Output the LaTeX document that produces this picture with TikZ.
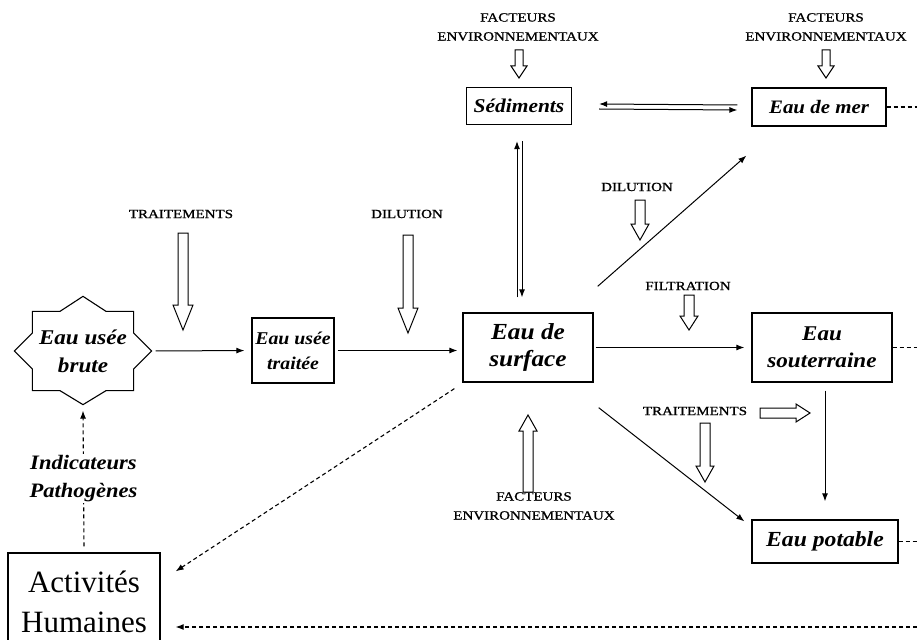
\documentclass[tikz,border=0pt]{standalone}
\usepackage{fontspec}
\setmainfont{Liberation Serif}
\newfontfamily\bifont[FakeStretch=1.1]{Liberation Serif}
\newfontfamily\capfont[FakeStretch=1.2,FakeBold=1]{Liberation Serif}
\usetikzlibrary{arrows.meta,calc}
\tikzset{
 box/.style n args={2}{draw, line width=1.3pt, inner sep=0pt, align=center,
   font=\bifont\bfseries\itshape\fontsize{#1}{#2}\selectfont},
 lbl/.style={font=\capfont\fontsize{12.5}{19}\selectfont, align=center, inner sep=0pt},
 arr/.style={line width=1pt, -{Latex[length=8pt,width=6pt]}},
 darr/.style={line width=1.1pt, dash pattern=on 4pt off 3pt, -{Latex[length=8pt,width=6pt]}},
 dline/.style={line width=1.1pt, dash pattern=on 4pt off 3pt},
 pics/blockarr/.style n args={4}{code={
   \draw[line width=1pt, fill=white] (0,-#3) -- ({#1-#2},-#3) -- ({#1-#2},-#4) -- (#1,0)
     -- ({#1-#2},#4) -- ({#1-#2},#3) -- (0,#3) -- cycle;}},
}
\begin{document}
\begin{tikzpicture}[x=1pt,y=-1pt]
\useasboundingbox (0,0) rectangle (917,639);
\clip (0,0) rectangle (917,639);
\coordinate (redge) at (917,0);

% nodes
\node[box={19.5}{24}, minimum width=105pt, minimum height=37pt] (sed) at (519,106) {Sédiments};
\node[box={19}{24}, minimum width=134pt, minimum height=38pt] (mer) at (819,107) {Eau de mer};
\node[box={18}{25}, minimum width=82pt, minimum height=65pt] (traitee) at (293,350.5) {Eau usée\\traitée};
\node[box={23}{27}, minimum width=130pt, minimum height=69pt] (surface) at (528,347.5) {Eau de\\surface};
\node[box={21}{27}, minimum width=140pt, minimum height=69pt] (sout) at (822,347.5) {Eau\\souterraine};
\node[box={21.5}{26}, minimum width=146pt, minimum height=43pt] (potable) at (825,541.5) {Eau potable};
\node[box={21}{28}, draw=none, minimum width=100pt, minimum height=78pt] (brute) at (83,351) {Eau usée\\brute};
\node[draw, line width=1.3pt, inner sep=0pt, align=center, minimum width=152pt, minimum height=97pt,
  font=\fontsize{31}{40}\selectfont] (act) at (84,601.5) {Activités\\Humaines};

% star outline
\draw[line width=1.1pt] (brute.north west) -- ($(brute.north)+(-23,0)$) -- ($(brute.north)+(0,-15)$)
  -- ($(brute.north)+(23,0)$) -- (brute.north east) -- ($(brute.east)+(0,-18)$) -- ($(brute.east)+(18,0)$)
  -- ($(brute.east)+(0,18)$) -- (brute.south east) -- ($(brute.south)+(23,0)$) -- ($(brute.south)+(0,14)$)
  -- ($(brute.south)+(-23,0)$) -- (brute.south west) -- ($(brute.west)+(0,18)$) -- ($(brute.west)+(-18,0)$)
  -- ($(brute.west)+(0,-18)$) -- cycle;
\coordinate (bruteE) at ($(brute.east)+(18,0)$);

% labels
\node[lbl] (f1) at (518,27) {FACTEURS\\ENVIRONNEMENTAUX};
\node[lbl] (f2) at (826,27) {FACTEURS\\ENVIRONNEMENTAUX};
\node[lbl] (t1) at (181,214) {TRAITEMENTS};
\node[lbl] (d1) at (407,214) {DILUTION};
\node[lbl] (d2) at (637,187) {DILUTION};
\node[lbl] (fil) at (688,286) {FILTRATION};
\node[lbl] (t2) at (695,411) {TRAITEMENTS};
\node[lbl] (f3) at (534,506) {FACTEURS\\ENVIRONNEMENTAUX};

% solid connectors
\draw[arr, shorten <=4pt, shorten >=7pt] (bruteE) -- (traitee.west);
\draw[arr, shorten <=3pt, shorten >=5pt] (traitee.east) -- (traitee.east -| surface.west);
\draw[arr, shorten <=2pt, shorten >=7pt] (surface.east) -- (sout.west);
\draw[arr] ($(mer.west)+(-14,-2)$) -- ($(sed.east)+(27,-2)$);
\draw[arr] ($(sed.east)+(27,3)$) -- ($(mer.west)+(-14,3)$);
\draw[arr] ($(surface.north)+(-11,-15)$) -- ($(sed.south)+(-2,16)$);
\draw[arr] ($(sed.south)+(3,16)$) -- ($(surface.north)+(-6,-15)$);
\draw[arr] ($(surface.north east)+(4,-26)$) -- ($(mer.south west)+(-5,29)$);
\draw[arr] ($(surface.south east)+(5,25)$) -- ($(potable.north west)+(-7,2)$);
\draw[arr] ($(sout.south)+(3,8)$) -- ($(potable.north)+(0,-18)$);

% dashed connectors
\draw[darr] ($(surface.south west)+(-8,6)$) -- ($(act.north east)+(15,19)$);
\draw[darr] ($(act.north)+(0,-6)$) -- node[midway, fill=white, inner sep=1pt, align=center,
   font=\bifont\bfseries\itshape\fontsize{20.5}{28}\selectfont] (ind) {Indicateurs\\Pathogènes}
   ($(brute.south)+(0,20)$);
\coordinate (rb) at (917,627);
\draw[darr, shorten >=15pt] (rb) -- (act.east |- rb);
\draw[dline] (mer.east) -- (mer.east -| redge);
\draw[dline] (sout.east) -- (sout.east -| redge);
\draw[dline] (potable.east) -- (potable.east -| redge);

% hollow block arrows
\pic[rotate=-90] at (519,50) {blockarr={28}{12}{4}{8}};
\pic[rotate=-90] at (826,50) {blockarr={28}{12}{4}{8}};
\pic[rotate=-90] at (183,233) {blockarr={97}{25}{5}{10}};
\pic[rotate=-90] at (408,235) {blockarr={98}{25}{5}{10}};
\pic[rotate=-90] at (640,200) {blockarr={40}{16}{5}{9}};
\pic[rotate=-90] at (689,295) {blockarr={35}{14}{5}{9}};
\pic at (760,413) {blockarr={50}{14}{5}{9}};
\pic[rotate=-90] at (705,423) {blockarr={59}{16}{5}{9}};
\pic[rotate=90] at (528,492) {blockarr={77}{16}{5}{9}};
\end{tikzpicture}
\end{document}
